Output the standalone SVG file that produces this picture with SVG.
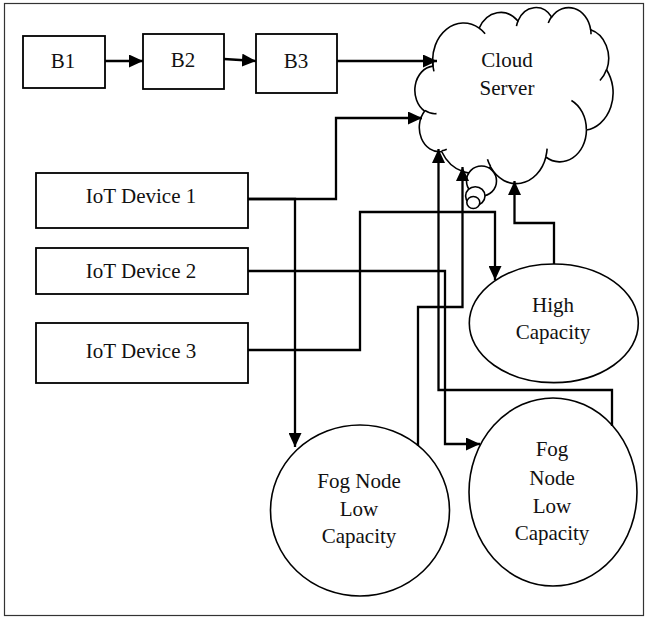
<svg xmlns="http://www.w3.org/2000/svg" width="646" height="617" viewBox="0 0 646 617">
<style>
  .box { fill: #fff; stroke: #000; stroke-width: 1.8; }
  .ell { fill: #fff; stroke: #000; stroke-width: 1.6; }
  .lbl { font-size: 21px; fill: #111; text-anchor: middle; }
  .wire { fill: none; stroke: #000; stroke-width: 2.3; stroke-linejoin: miter; }
  .arr { marker-end: url(#ah); }
</style>
<defs>
  <marker id="ah" markerUnits="userSpaceOnUse" markerWidth="15" markerHeight="13" refX="14" refY="6.5" orient="auto">
    <path d="M0,0 L14,6.5 L0,13 z" fill="#000"/>
  </marker>
</defs>
<rect x="0" y="0" width="646" height="617" fill="#fff"/>
<rect x="4.5" y="3.5" width="639" height="612" fill="none" stroke="#333" stroke-width="1.2"/>

<g font-family="Liberation Serif, Times New Roman, Times, DejaVu Serif, serif">
<g id="cloud">
  <g transform="translate(415,7) scale(0.0045833,0.0040741)">
    <path fill="#fff" stroke="#000" stroke-width="1.6" vector-effect="non-scaling-stroke" d="M3900 14370 A6753 9190 0 0 1 14005 5202 A5333 7267 0 0 1 22457 3434 A4365 5945 0 0 1 29835 2484 A4857 6595 0 0 1 38319 5580 A5333 7273 0 0 1 41820 15463 A6775 9220 0 0 1 37405 30205 A5785 7867 0 0 1 28556 36815 A6752 9215 0 0 1 16482 39269 A7720 10543 0 0 1 5806 35475 A4360 5918 0 0 1 2115 25552 A4345 5945 0 0 1 3865 14509 Z"/>
    <path fill="none" stroke="#000" stroke-width="1.6" vector-effect="non-scaling-stroke" d="M4693 26177 A4345 5945 0 0 1 2160 25380 M6928 34899 A4360 5918 0 0 1 5820 35280 M16478 39090 A6752 9215 0 0 1 15809 37347 M28827 34751 A6752 9215 0 0 1 28560 36660 M34129 22954 A5785 7867 0 0 1 37380 30090 M41798 15354 A5333 7273 0 0 1 40350 18031 M38324 5426 A4857 6595 0 0 1 38400 6690 M29078 3952 A4857 6595 0 0 1 29820 2341 M22141 4720 A4365 5945 0 0 1 22500 3330 M14000 5192 A6753 9190 0 0 1 15301 6542 M4127 15789 A6753 9190 0 0 1 3878 13519"/>
  </g>
  <ellipse class="ell" cx="481.5" cy="181" rx="15" ry="15"/>
  <ellipse class="ell" cx="475.3" cy="196" rx="9.7" ry="9.3"/>
  <ellipse class="ell" cx="473.3" cy="202.5" rx="6.5" ry="6"/>
  <text class="lbl" x="507" y="67">Cloud</text>
  <text class="lbl" x="507" y="95">Server</text>
</g>

<g id="b1"><rect class="box" x="23" y="36" width="82" height="52"/><text class="lbl" x="63" y="68">B1</text></g>
<g id="b2"><rect class="box" x="143" y="34" width="81" height="55"/><text class="lbl" x="183" y="67">B2</text></g>
<g id="b3"><rect class="box" x="256" y="34" width="81" height="59"/><text class="lbl" x="296" y="68">B3</text></g>

<g id="iot1"><rect class="box" x="36" y="173" width="212" height="55"/><text class="lbl" x="141" y="203">IoT Device 1</text></g>
<g id="iot2"><rect class="box" x="36" y="248" width="212" height="46"/><text class="lbl" x="141" y="278">IoT Device 2</text></g>
<g id="iot3"><rect class="box" x="36" y="323" width="212" height="60"/><text class="lbl" x="141" y="358">IoT Device 3</text></g>

<g id="high">
  <ellipse class="ell" cx="553.8" cy="323.3" rx="84.5" ry="59.3"/>
  <text class="lbl" x="553" y="312">High</text>
  <text class="lbl" x="553" y="339">Capacity</text>
</g>
<g id="fog1">
  <ellipse class="ell" cx="360" cy="510.5" rx="89.5" ry="85.5"/>
  <text class="lbl" x="359" y="488">Fog Node</text>
  <text class="lbl" x="359" y="516">Low</text>
  <text class="lbl" x="359" y="543">Capacity</text>
</g>
<g id="fog2">
  <ellipse class="ell" cx="553" cy="492" rx="84" ry="94"/>
  <text class="lbl" x="552" y="456">Fog</text>
  <text class="lbl" x="552" y="485">Node</text>
  <text class="lbl" x="552" y="513">Low</text>
  <text class="lbl" x="552" y="540">Capacity</text>
</g>
</g>

<g id="connectors">
  <path class="wire arr" d="M105 61 L143 61"/>
  <path class="wire arr" d="M224 59 L256 61"/>
  <path class="wire arr" d="M337 61 L437 61"/>
  <path class="wire arr" d="M248 199 L336 199 L336 118 L422 118"/>
  <path class="wire arr" d="M248 199 L295 199 L295 447"/>
  <path class="wire arr" d="M248 271 L445 271 L445 444 L480 444"/>
  <path class="wire arr" d="M248 350 L360 350 L360 212 L495 212 L495 280"/>
  <path class="wire arr" d="M418 446 L418 307 L462.5 307 L462.5 167"/>
  <path class="wire arr" d="M612 426 L612 390 L438.5 390 L438.5 149"/>
  <path class="wire arr" d="M554 264 L554 223 L514.5 223 L514.5 181"/>
</g>
</svg>
